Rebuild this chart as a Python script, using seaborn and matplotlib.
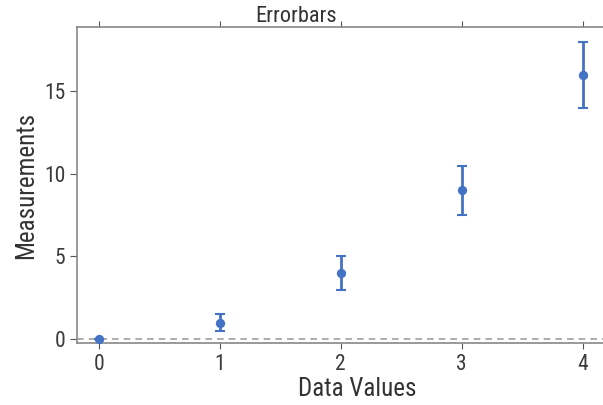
import numpy as np
import pandas as pd
import seaborn as sns
import matplotlib.pyplot as plt

# data
x_vals = [0, 1, 2, 3, 4]
y_vals = [0, 1, 4, 9, 16]
y_err = [0, 0.5, 1, 1.5, 2]
x_ticks = [0, 1, 2, 3, 4]
y_ticks = [0, 5, 10, 15]

df = pd.DataFrame({'x': x_vals, 'y': y_vals, 'err': y_err})

sns.set_style('ticks')
plt.rcParams['font.family'] = ['Roboto Condensed', 'Liberation Sans', 'DejaVu Sans']
plt.rcParams['text.color'] = '#333333'
plt.rcParams['axes.labelcolor'] = '#333333'
plt.rcParams['xtick.color'] = '#555555'
plt.rcParams['ytick.color'] = '#555555'
plt.rcParams['xtick.labelcolor'] = '#3a3a3a'
plt.rcParams['ytick.labelcolor'] = '#3a3a3a'

blue = '#4472c4'
fig = plt.figure(figsize=(6.03, 4.05), dpi=100)
ax_w = 560
ax = fig.add_axes([77 / 603, 62 / 405, ax_w / 603, 316 / 405])

# dashed reference line at zero
ax.axhline(0, color='#a0a0a0', ls='--', lw=1.2, dashes=(4, 3), zorder=1)
ax.errorbar(df['x'], df['y'], yerr=df['err'], fmt='none', ecolor=blue,
            elinewidth=2, capsize=3.5, capthick=1.5, zorder=2)
sns.scatterplot(data=df, x='x', y='y', ax=ax, color=blue, s=45,
                edgecolor=blue, linewidth=0, zorder=3)

ax.set_xlim(-0.18, 4.45)
ax.set_ylim(-0.24, 18.9)
ax.set_xticks(x_ticks)
ax.set_yticks(y_ticks)
ax.tick_params(axis='x', top=True, direction='out', length=4, labelsize=15.5, pad=4)
ax.tick_params(axis='y', direction='out', length=5, labelsize=15.5)
for side in ['left', 'top', 'bottom']:
    ax.spines[side].set_color('#888888')
    ax.spines[side].set_linewidth(1.2)
ax.spines['right'].set_visible(False)

ax.set_xlabel('Data Values', fontsize=18, labelpad=1)
ax.set_ylabel('Measurements', fontsize=18, labelpad=4)
ax.set_title('Errorbars', fontsize=16, pad=3.5, x=(296 - 77) / ax_w)

fig.savefig('out.png', dpi=100)
